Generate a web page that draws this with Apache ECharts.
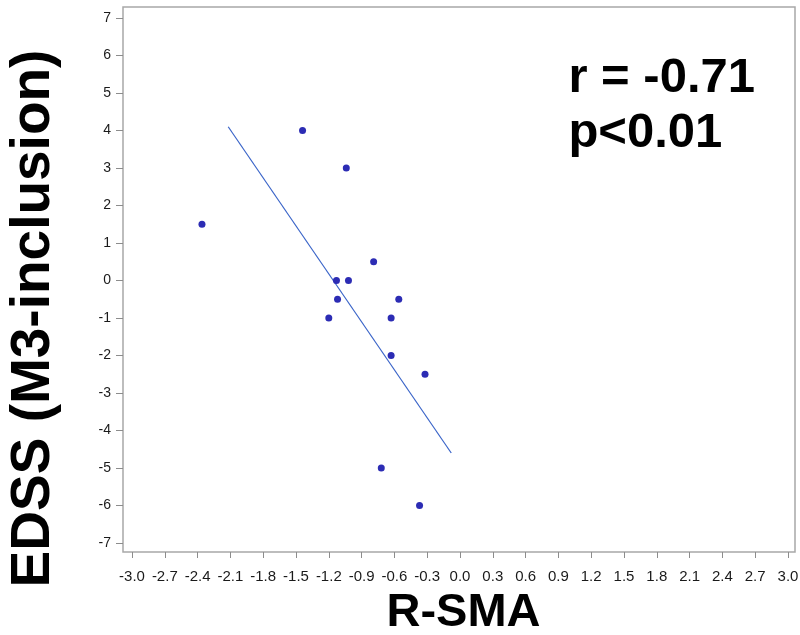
<!DOCTYPE html>
<html>
<head>
<meta charset="utf-8">
<script src="https://cdn.jsdelivr.net/npm/echarts@6/dist/echarts.min.js"></script>
<style>
  html, body { margin: 0; padding: 0; background: #fff; }
  #chart { width: 800px; height: 635px; }
</style>
</head>
<body>
<div id="chart"></div>
<script>
// R-SMA (x) vs EDSS change (y)
let rsma = [-2.36, -1.44, -1.04, -0.79, -1.13, -1.02, -1.12, -0.56, -1.20, -0.63, -0.63, -0.32, -0.72, -0.37];
let edss = [1.5, 4, 3, 0.5, 0, 0, -0.5, -0.5, -1, -1, -2, -2.5, -5, -6];
// fitted line end points
let fitX = [-2.12, -0.08];
let fitY = [4.1, -4.6];
let statText = ['r = -0.71', 'p<0.01'];

let points = rsma.map(function (x, i) { return [x, edss[i]]; });
let fitLine = fitX.map(function (x, i) { return [x, fitY[i]]; });

let chartDom = document.getElementById('chart');
let myChart = echarts.init(chartDom);
let tickColor = '#8c8c8c';
let titleFont = 'Liberation Sans, Arial, sans-serif';
let option = {
    animation: false,
    backgroundColor: '#fff',
    grid: [
        // data area
        {left: 132, right: 12, top: 18, bottom: 92, outerBoundsMode: 'none'},
        // frame
        {left: 123, right: 5, top: 7, bottom: 83, outerBoundsMode: 'none', show: true, borderColor: '#a8a8a8', borderWidth: 1.5}
    ],
    xAxis: [
        {
            gridIndex: 0,
            type: 'value',
            min: -3.0,
            max: 3.0,
            interval: 0.3,
            offset: 9,
            axisLine: {show: false, onZero: false},
            axisTick: {show: true, length: 6, lineStyle: {color: tickColor}},
            splitLine: {show: false},
            axisLabel: {
                margin: 17,
                color: '#1a1a1a',
                fontFamily: 'Liberation Sans Narrow, Arial Narrow, sans-serif',
                fontSize: 15,
                formatter: function (v) { return v.toFixed(1); }
            },
            name: 'R-SMA',
            nameLocation: 'middle',
            nameGap: 38,
            nameTextStyle: {fontSize: 47, fontWeight: 'bold', color: '#000', fontFamily: titleFont, padding: [0, 0, 0, 7]}
        },
        {gridIndex: 1, type: 'value', show: false, min: 0, max: 1}
    ],
    yAxis: [
        {
            gridIndex: 0,
            type: 'value',
            min: -7,
            max: 7,
            interval: 1,
            offset: 9,
            axisLine: {show: false, onZero: false},
            axisTick: {show: true, length: 7, lineStyle: {color: tickColor}},
            splitLine: {show: false},
            axisLabel: {
                margin: 12,
                color: '#1a1a1a',
                fontFamily: titleFont,
                fontSize: 14
            },
            name: 'EDSS (M3-inclusion)',
            nameLocation: 'middle',
            nameGap: 62,
            nameRotate: 90,
            nameTextStyle: {fontSize: 55, fontWeight: 'bold', color: '#000', fontFamily: titleFont, padding: [0, 76, 0, 0]}
        },
        {gridIndex: 1, type: 'value', show: false, min: 0, max: 1}
    ],
    graphic: [
        {
            type: 'text',
            right: 45,
            top: 51,
            style: {
                text: statText.join('\n'),
                font: 'bold 49px "Liberation Sans", Arial, sans-serif',
                fill: '#000',
                lineHeight: 55
            }
        }
    ],
    series: [
        {
            type: 'line',
            xAxisIndex: 0,
            yAxisIndex: 0,
            data: fitLine,
            symbol: 'none',
            lineStyle: {color: '#3a64c8', width: 1.2},
            z: 2
        },
        {
            type: 'scatter',
            xAxisIndex: 0,
            yAxisIndex: 0,
            data: points,
            symbolSize: 7,
            itemStyle: {color: '#2c2cb4', opacity: 1},
            z: 3
        }
    ]
};
option && myChart.setOption(option);
</script>
</body>
</html>
